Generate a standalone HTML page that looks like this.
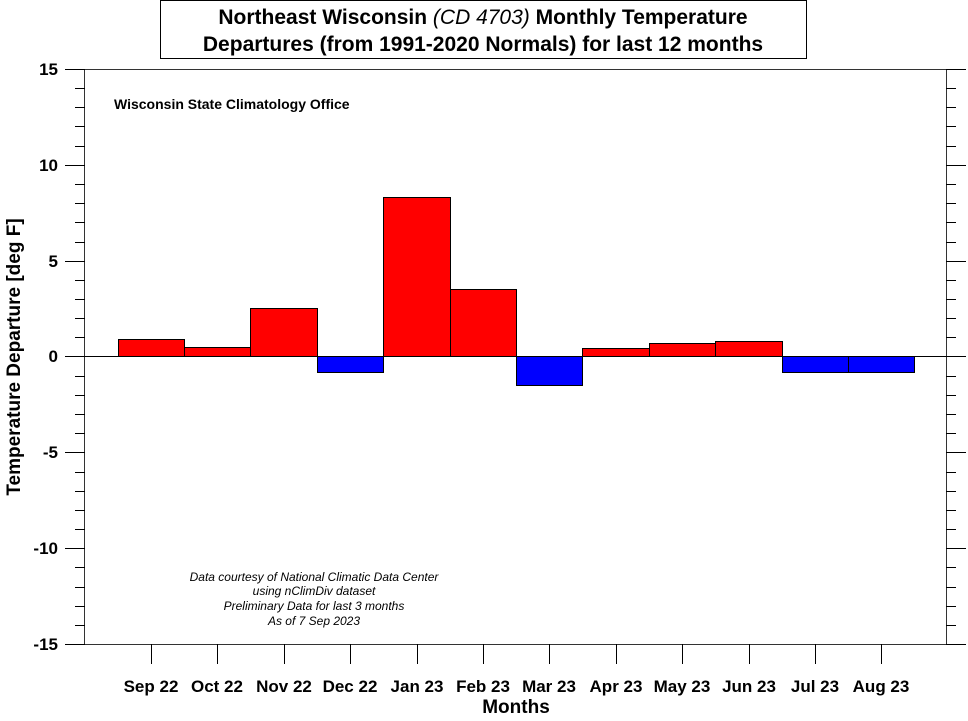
<!DOCTYPE html><html><head><style>body{margin:0;background:#fff}svg{display:block}</style></head><body>
<svg width="968" height="721" xmlns="http://www.w3.org/2000/svg" font-family="Liberation Sans, Arial, sans-serif">
<rect width="968" height="721" fill="#fff"/>
<rect x="160.5" y="0.5" width="646" height="58" fill="#fff" stroke="#000"/>
<text x="483" y="24" font-size="21" font-weight="bold" text-anchor="middle">Northeast Wisconsin <tspan font-style="italic" font-weight="normal">(CD 4703)</tspan> Monthly Temperature</text>
<text x="483" y="51" font-size="21" font-weight="bold" text-anchor="middle">Departures (from 1991-2020 Normals) for last 12 months</text>
<g stroke="#000" stroke-width="1">
<rect x="118.5" y="339.5" width="66" height="17" fill="#f00"/>
<rect x="184.5" y="347.5" width="66" height="9" fill="#f00"/>
<rect x="250.5" y="308.5" width="67" height="48" fill="#f00"/>
<rect x="317.5" y="356.5" width="66" height="16" fill="#00f"/>
<rect x="383.5" y="197.5" width="67" height="159" fill="#f00"/>
<rect x="450.5" y="289.5" width="66" height="67" fill="#f00"/>
<rect x="516.5" y="356.5" width="66" height="29" fill="#00f"/>
<rect x="582.5" y="348.5" width="67" height="8" fill="#f00"/>
<rect x="649.5" y="343.5" width="66" height="13" fill="#f00"/>
<rect x="715.5" y="341.5" width="67" height="15" fill="#f00"/>
<rect x="782.5" y="356.5" width="66" height="16" fill="#00f"/>
<rect x="848.5" y="356.5" width="66" height="16" fill="#00f"/>
</g>
<line x1="84.5" y1="356.5" x2="946.5" y2="356.5" stroke="#000"/>
<rect x="84.5" y="69.5" width="862" height="575" fill="none" stroke="#333"/>
<path stroke="#000" fill="none" d="
M65 69.5H85M75 88.5H85M75 107.5H85M75 126.5H85M75 146.5H85
M65 165.5H85M75 184.5H85M75 203.5H85M75 222.5H85M75 242.5H85
M65 261.5H85M75 280.5H85M75 299.5H85M75 318.5H85M75 337.5H85
M65 356.5H85M75 376.5H85M75 395.5H85M75 414.5H85M75 433.5H85
M65 452.5H85M75 472.5H85M75 491.5H85M75 510.5H85M75 529.5H85
M65 548.5H85M75 567.5H85M75 587.5H85M75 606.5H85M75 625.5H85M65 644.5H85
M946 69.5H966M946 88.5H956M946 107.5H956M946 126.5H956M946 146.5H956
M946 165.5H966M946 184.5H956M946 203.5H956M946 222.5H956M946 242.5H956
M946 261.5H966M946 280.5H956M946 299.5H956M946 318.5H956M946 337.5H956
M946 356.5H966M946 376.5H956M946 395.5H956M946 414.5H956M946 433.5H956
M946 452.5H966M946 472.5H956M946 491.5H956M946 510.5H956M946 529.5H956
M946 548.5H966M946 567.5H956M946 587.5H956M946 606.5H956M946 625.5H956M946 644.5H966
M151.5 644V664M217.5 644V664M284.5 644V664M350.5 644V664M417.5 644V664M483.5 644V664
M549.5 644V664M616.5 644V664M682.5 644V664M749.5 644V664M815.5 644V664M881.5 644V664"/>
<g font-size="17" font-weight="bold" text-anchor="end">
<text x="58" y="75">15</text><text x="58" y="171">10</text><text x="58" y="267">5</text><text x="58" y="362">0</text><text x="58" y="458">-5</text><text x="58" y="554">-10</text><text x="58" y="650">-15</text>
</g>
<g font-size="17" font-weight="bold" text-anchor="middle">
<text x="151" y="692">Sep 22</text><text x="217" y="692">Oct 22</text><text x="284" y="692">Nov 22</text><text x="350" y="692">Dec 22</text><text x="417" y="692">Jan 23</text><text x="483" y="692">Feb 23</text><text x="549" y="692">Mar 23</text><text x="616" y="692">Apr 23</text><text x="682" y="692">May 23</text><text x="749" y="692">Jun 23</text><text x="815" y="692">Jul 23</text><text x="881" y="692">Aug 23</text>
<text x="516" y="713" font-size="19">Months</text>
</g>
<text transform="translate(20,357) rotate(-90)" font-size="19" font-weight="bold" text-anchor="middle">Temperature Departure [deg F]</text>
<text x="114" y="109" font-size="14" font-weight="bold">Wisconsin State Climatology Office</text>
<g font-size="12" font-style="italic" text-anchor="middle">
<text x="314" y="581">Data courtesy of National Climatic Data Center</text>
<text x="314" y="595">using nClimDiv dataset</text>
<text x="314" y="610">Preliminary Data for last 3 months</text>
<text x="314" y="625">As of 7 Sep 2023</text>
</g>
</svg></body></html>
